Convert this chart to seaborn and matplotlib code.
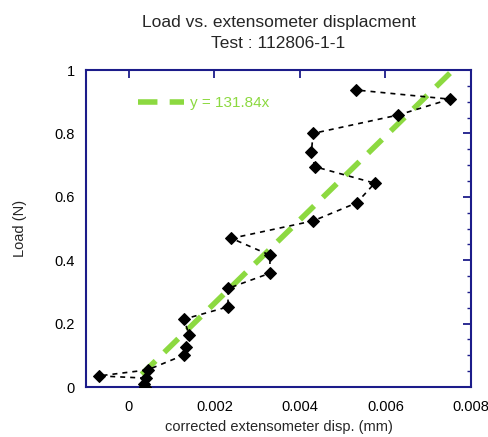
import matplotlib
matplotlib.use("Agg")
import matplotlib.pyplot as plt
import seaborn as sns
import numpy as np
import pandas as pd
from matplotlib.ticker import MultipleLocator, FixedLocator, FixedFormatter

# data
disp = [0.00038, 0.00036, 0.00040, -0.00070, 0.00044, 0.00129, 0.00133, 0.00141,
        0.00129, 0.00232, 0.00232, 0.00330, 0.00330, 0.00240, 0.00431, 0.00533,
        0.00575, 0.00435, 0.00427, 0.00431, 0.00630, 0.00751, 0.00531]
load = [0.000, 0.008, 0.028, 0.035, 0.054, 0.101, 0.127, 0.164,
        0.214, 0.253, 0.311, 0.359, 0.416, 0.469, 0.524, 0.581,
        0.643, 0.695, 0.742, 0.800, 0.858, 0.908, 0.937]
slope = 131.84
fit_x = [0.0003, 0.00755]
fit_y = [slope * v for v in fit_x]

x_ticks = [0, 0.002, 0.004, 0.006, 0.008]
x_labels = ["0", "0.002", "0.004", "0.006", "0.008"]
y_ticks = [0, 0.2, 0.4, 0.6, 0.8, 1.0]
y_labels = ["0", "0.2", "0.4", "0.6", "0.8", "1"]

sns.set_style("white")
plt.rcParams['font.family'] = ['Liberation Sans', 'DejaVu Sans']

fig = plt.figure(figsize=(4.89, 4.37), dpi=100)
ax = fig.add_axes([0.176, 0.1144, 0.787, 0.7254])

green = "#8cd940"
navy = "#1c1c8a"

df = pd.DataFrame({"disp": disp, "load": load})
sns.lineplot(data=df, x="disp", y="load", sort=False, estimator=None, ax=ax,
             color="black", linewidth=1.2, linestyle=(0, (3, 3)),
             marker="D", markersize=6, markeredgecolor="black", zorder=3)

fdf = pd.DataFrame({"x": fit_x, "y": fit_y})
sns.lineplot(data=fdf, x="x", y="y", sort=False, estimator=None, ax=ax,
             color=green, linewidth=4, linestyle=(0, (3.5, 2.2)), zorder=2,
             label="y = 131.84x")

ax.set_xlim(-0.001, 0.008)
ax.set_ylim(0, 1)
ax.xaxis.set_major_locator(FixedLocator(x_ticks))
ax.xaxis.set_major_formatter(FixedFormatter(x_labels))
ax.yaxis.set_major_locator(FixedLocator(y_ticks))
ax.yaxis.set_major_formatter(FixedFormatter(y_labels))
ax.yaxis.set_minor_locator(MultipleLocator(0.05))

for s in ax.spines.values():
    s.set_color(navy)
    s.set_linewidth(1.5)
ax.tick_params(which="both", direction="in", top=True, right=True,
               color=navy, labelsize=10.5, labelcolor="black")
ax.tick_params(which="major", length=6, width=1.3)
ax.tick_params(which="minor", length=3, width=1.0)
ax.tick_params(axis="x", pad=9)
ax.tick_params(axis="y", pad=8)

ax.set_xlabel("corrected extensometer disp. (mm)", fontsize=10.5, labelpad=5)
ax.set_ylabel("Load (N)", fontsize=10.5, labelpad=20)
ax.set_title("Load vs. extensometer displacment\nTest : 112806-1-1", fontsize=12.5, pad=16,
             linespacing=1.45)

leg = ax.legend(loc="upper left", bbox_to_anchor=(0.1, 0.96), frameon=False,
                fontsize=11, handlelength=3.0, handletextpad=0.4)
for t in leg.get_texts():
    t.set_color(green)

fig.savefig("out.png", dpi=100)
